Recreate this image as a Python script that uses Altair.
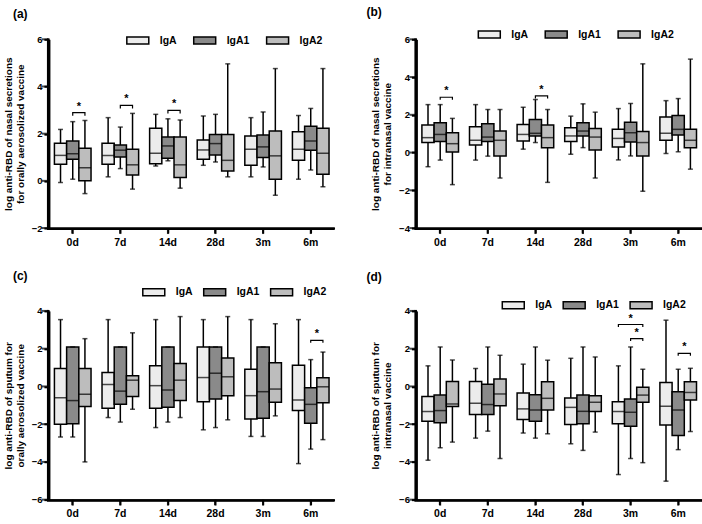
import altair as alt
import pandas as pd

FONT = "Liberation Sans"
TIMES = ["0d", "7d", "14d", "28d", "3m", "6m"]
ISOS = ["IgA", "IgA1", "IgA2"]
FILLS = ["#ececec", "#8a8a8a", "#bdbdbd"]

# values ordered time-major (0d..6m), then IgA, IgA1, IgA2
# panel (a): nasal secretions, orally aerosolized vaccine
A_HI = [2.18, 2.51, 2.56, 2.68, 2.28, 2.86, 2.82, 2.63, 2.58, 2.75, 2.82, 4.96, 2.68, 2.92, 4.76, 2.77, 3.07, 4.76]
A_Q3 = [1.59, 1.69, 1.38, 1.59, 1.52, 1.34, 2.23, 1.86, 1.86, 1.73, 1.97, 1.97, 1.90, 1.94, 2.11, 2.08, 2.32, 2.23]
A_MED = [1.08, 1.15, 0.56, 1.08, 1.30, 0.68, 1.17, 1.48, 0.68, 1.31, 1.58, 0.87, 1.34, 1.44, 1.06, 1.34, 1.69, 1.17]
A_Q1 = [0.70, 0.92, 0.00, 0.70, 1.01, 0.25, 0.73, 0.96, 0.14, 0.92, 1.10, 0.42, 0.66, 0.99, 0.07, 0.87, 1.30, 0.28]
A_LO = [-0.07, 0.07, -0.54, 0.17, 0.52, -0.35, 0.63, 0.85, -0.31, 0.66, 0.80, 0.17, 0.17, 0.59, -0.61, 0.07, 0.46, -0.25]

# panel (b): nasal secretions, intranasal vaccine
B_HI = [2.54, 2.54, 1.81, 2.54, 2.28, 2.28, 2.40, 2.81, 2.28, 1.93, 2.58, 2.14, 2.33, 2.60, 4.70, 2.75, 2.86, 4.95]
B_Q3 = [1.46, 1.58, 1.05, 1.37, 1.53, 1.14, 1.49, 1.75, 1.46, 1.32, 1.58, 1.28, 1.23, 1.61, 1.11, 1.89, 1.96, 1.23]
B_MED = [0.79, 0.96, 0.47, 0.65, 0.82, 0.65, 0.96, 1.02, 0.79, 0.88, 1.14, 0.82, 0.75, 1.05, 0.53, 1.02, 1.23, 0.65]
B_Q1 = [0.53, 0.58, 0.03, 0.40, 0.58, -0.18, 0.61, 0.88, 0.26, 0.58, 0.88, 0.14, 0.30, 0.56, -0.18, 0.65, 0.93, 0.26]
B_LO = [-0.75, -0.40, -1.70, -0.40, -0.19, -1.35, 0.18, 0.53, -1.58, -0.09, 0.26, -1.35, -0.39, -0.18, -2.05, -0.05, 0.04, -0.88]

# panel (c): sputum, orally aerosolized vaccine
C_HI = [3.54, 2.09, 2.53, 3.54, 2.09, 2.84, 3.54, 2.09, 3.70, 3.54, 2.09, 3.70, 3.54, 2.09, 3.32, 3.54, 1.42, 1.82]
C_Q3 = [0.95, 2.09, 0.95, 0.74, 2.09, 0.56, 1.09, 2.09, 1.21, 2.09, 2.09, 1.51, 0.91, 2.09, 1.25, 1.12, -0.07, 0.46]
C_MED = [-0.60, -0.75, -0.42, 0.10, -0.25, 0.33, 0.04, -0.19, 0.33, 0.47, 0.70, 0.51, -0.49, -0.28, -0.14, -0.72, -0.95, -0.02]
C_Q1 = [-2.00, -1.98, -1.07, -1.16, -0.95, -0.54, -1.16, -1.10, -0.75, -0.81, -0.67, -0.49, -1.72, -1.68, -0.84, -1.28, -1.95, -0.86]
C_LO = [-2.68, -2.68, -4.00, -1.65, -1.89, -1.21, -2.18, -1.89, -1.65, -2.30, -2.18, -1.77, -2.65, -2.65, -1.56, -4.09, -3.32, -2.82]

# panel (d): sputum, intranasal vaccine
D_HI = [1.09, 2.09, 1.40, 0.95, 2.09, 1.65, 1.18, 2.09, 1.39, 1.49, 2.09, 1.56, 1.09, 2.09, 0.91, 3.51, 0.91, 0.96]
D_Q3 = [-0.53, -0.46, 0.26, 0.26, 0.12, 0.39, -0.35, -0.44, 0.25, -0.61, -0.46, -0.49, -0.81, -0.67, -0.05, 0.21, -0.28, 0.25]
D_MED = [-1.33, -1.28, -0.93, -0.89, -0.96, -0.40, -1.19, -1.25, -0.63, -1.11, -1.32, -0.84, -1.33, -1.37, -0.46, -1.05, -1.25, -0.32]
D_Q1 = [-1.84, -1.93, -1.07, -1.49, -1.49, -1.02, -1.75, -1.84, -1.25, -2.02, -1.98, -1.33, -1.98, -2.11, -0.84, -2.04, -2.60, -0.72]
D_LO = [-3.91, -3.25, -2.95, -2.74, -2.37, -3.82, -2.47, -2.74, -2.51, -3.04, -3.39, -2.42, -4.67, -3.82, -4.04, -5.02, -3.35, -2.39]

# significance brackets: (panel, time, from isotype, to isotype, height)
BRACKETS = [
    ("a", "0d", "IgA1", "IgA2", 2.89), ("a", "7d", "IgA1", "IgA2", 3.20), ("a", "14d", "IgA1", "IgA2", 2.99),
    ("b", "0d", "IgA1", "IgA2", 2.93), ("b", "14d", "IgA1", "IgA2", 3.00),
    ("c", "6m", "IgA1", "IgA2", 2.44),
    ("d", "3m", "IgA", "IgA2", 3.28), ("d", "3m", "IgA1", "IgA2", 2.53), ("d", "6m", "IgA1", "IgA2", 1.75),
]

YTITLES = {
    "a": ["log anti-RBD of nasal secretions", "for orally aerosolized vaccine"],
    "b": ["log anti-RBD of nasal secretions", "for intranasal vaccine"],
    "c": ["log anti-RBD of sputum  for", "orally aerosolized vaccine"],
    "d": ["log anti-RBD of sputum  for", "intranasal vaccine"],
}
YDOMAINS = {"a": [-2, 6], "b": [-4, 6], "c": [-6, 4], "d": [-6, 4]}
# legend x, legend y, column padding, panel-label x, panel-label y (pixels from plot corner)
LAYOUT = {"a": (77, -11, 14, -36, -25), "b": (61, -17, 14, -50, -27),
          "c": (93, -31, 8, -36, -35), "d": (85, -18, 8, -50, -34)}
STATS = {
    "a": (A_HI, A_Q3, A_MED, A_Q1, A_LO),
    "b": (B_HI, B_Q3, B_MED, B_Q1, B_LO),
    "c": (C_HI, C_Q3, C_MED, C_Q1, C_LO),
    "d": (D_HI, D_Q3, D_MED, D_Q1, D_LO),
}

W, H = 286, 189
BAND = W / len(TIMES)
SUB_OUTER = 0.45
SUB_STEP = BAND / (len(ISOS) + 2 * SUB_OUTER)


def box_df(key):
    hi, q3, med, q1, lo = STATS[key]
    rows = []
    k = 0
    for t in TIMES:
        for iso in ISOS:
            rows.append({"time": t, "iso": iso, "hi": hi[k], "q3": q3[k],
                         "med": med[k], "q1": q1[k], "lo": lo[k]})
            k += 1
    return pd.DataFrame(rows)


def bracket_dfs(key, drop=0.13):
    pts, stars = [], []
    for n, (p, t, a, b, y) in enumerate(BRACKETS):
        if p != key:
            continue
        seq = [(a, y - drop), (a, y), (b, y), (b, y - drop)]
        for j, (iso, yy) in enumerate(seq):
            pts.append({"id": n, "o": j, "time": t, "iso": iso, "y": yy})
        i1, i2 = ISOS.index(a), ISOS.index(b)
        stars.append({"time": t, "iso": ISOS[(i1 + i2) // 2], "half": (i1 + i2) % 2,
                      "y": y, "s": "*"})
    return pd.DataFrame(pts), pd.DataFrame(stars)


def panel(key):
    df = box_df(key)
    lo_d, hi_d = YDOMAINS[key]
    yticks = list(range(lo_d, hi_d + 1, 2))
    yscale = alt.Scale(domain=[lo_d, hi_d], nice=False, zero=False)
    yaxis = alt.Axis(values=yticks, grid=False,
                     labelFontSize=9.5, labelPadding=2,
                     titleFontSize=10, titleLineHeight=12, titlePadding=6)
    ytitle = YTITLES[key]

    def Y(field):
        return alt.Y(field, scale=yscale, axis=yaxis, title=ytitle)

    xaxis = alt.Axis(title=None, labelAngle=0, labelFontSize=10.5, labelPadding=4, grid=False)
    x = alt.X("time:N", sort=TIMES, axis=xaxis, title=None,
              scale=alt.Scale(domain=TIMES, paddingInner=0, paddingOuter=0))
    xo = alt.XOffset("iso:N", sort=ISOS,
                     scale=alt.Scale(domain=ISOS, paddingInner=0, paddingOuter=SUB_OUTER))
    base = alt.Chart(df).encode(x=x, xOffset=xo)

    lx, ly, cp, tx, ty = LAYOUT[key]
    whisk = base.mark_rule(color="black", strokeWidth=1.5).encode(y=Y("lo:Q"), y2="hi:Q")
    box = base.mark_bar(stroke="black", strokeWidth=1.5).encode(
        y=Y("q1:Q"), y2="q3:Q",
        fill=alt.Fill("iso:N", scale=alt.Scale(domain=ISOS, range=FILLS),
                      legend=alt.Legend(
                          title=None, orient="none", legendX=lx, legendY=ly,
                          direction="horizontal", symbolType="M-1,-0.32H1V0.32H-1Z",
                          symbolSize=484, symbolStrokeColor="black", symbolStrokeWidth=1.5,
                          symbolOpacity=1, labelFont=FONT, labelFontSize=10.5,
                          labelFontWeight="bold", labelColor="black", labelOffset=10,
                          columnPadding=cp, padding=0)))
    med = base.mark_tick(color="black", thickness=1.5, size=SUB_STEP, orient="horizontal").encode(
        y=Y("med:Q"))
    caplo = base.mark_tick(color="black", thickness=1.5, size=5, orient="horizontal").encode(
        y=Y("lo:Q"))
    caphi = base.mark_tick(color="black", thickness=1.5, size=5, orient="horizontal").encode(
        y=Y("hi:Q"))

    # axis lines and tick marks drawn as filled rectangles
    one = pd.DataFrame({"k": [0]})
    yline = alt.Chart(one).mark_rect(color="black").encode(
        x=alt.value(-2), x2=alt.value(0.5), y=alt.value(-1), y2=alt.value(H + 1))
    xline = alt.Chart(one).mark_rect(color="black").encode(
        x=alt.value(-2), x2=alt.value(W), y=alt.value(H - 0.5), y2=alt.value(H + 2))
    ytk = alt.Chart(pd.DataFrame({"v": yticks})).mark_tick(
        color="black", thickness=2, size=6, orient="horizontal").encode(
        x=alt.value(-4), y=Y("v:Q"))
    xtk = alt.Chart(pd.DataFrame({"time": TIMES})).mark_tick(
        color="black", thickness=2, size=6, orient="vertical").encode(
        x=x, y=alt.value(H + 3))
    lab = alt.Chart(pd.DataFrame({"t": [f"({key})"]})).mark_text(
        font=FONT, fontSize=12, fontWeight="bold", color="black", align="left",
        baseline="middle").encode(x=alt.value(tx), y=alt.value(ty), text="t:N")

    layers = [whisk, box, med, caplo, caphi]
    pts, stars = bracket_dfs(key)
    if len(pts):
        br = alt.Chart(pts).mark_line(color="black", strokeWidth=1.2).encode(
            x=x, xOffset=xo, y=Y("y:Q"), detail="id:N", order="o:Q")
        layers.append(br)
        for half, dx in ((0, 0), (1, SUB_STEP / 2)):
            sub = stars[stars["half"] == half]
            if len(sub):
                layers.append(alt.Chart(sub).mark_text(
                    font=FONT, fontSize=11, fontWeight="bold", color="black", dx=dx, dy=-1,
                    baseline="bottom").encode(
                    x=x, xOffset=xo, y=Y("y:Q"), text="s:N"))
    layers += [yline, xline, ytk, xtk, lab]

    return alt.layer(*layers).properties(width=W, height=H)


top = alt.hconcat(panel("a"), panel("b"), spacing=32).resolve_scale(fill="independent")
bottom = alt.hconcat(panel("c"), panel("d"), spacing=32).resolve_scale(fill="independent")
chart = alt.vconcat(top, bottom, spacing=22).resolve_scale(fill="independent").properties(
    padding={"left": 3, "top": 6, "right": 0, "bottom": 0}, background="white"
).configure_view(stroke=None).configure_axis(
    domain=True, ticks=True, domainColor="#000000", domainWidth=2, domainOpacity=1,
    tickColor="#000000", tickWidth=2, tickSize=5, tickOpacity=1,
    labelFont=FONT, labelFontWeight="bold", labelColor="black",
    titleFont=FONT, titleFontWeight="bold", titleColor="black",
)

chart.save("out.html", embed_options={"renderer": "svg", "actions": False})
